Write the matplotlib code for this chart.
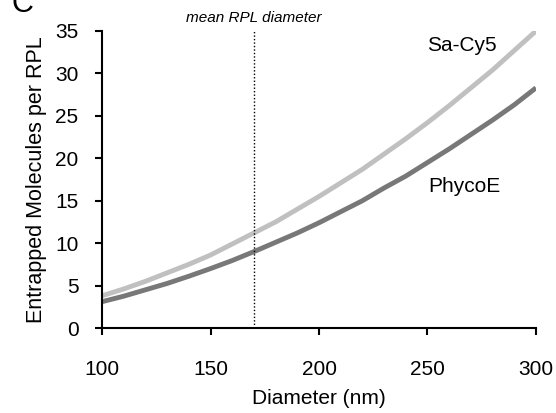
import matplotlib
matplotlib.use("Agg")
import matplotlib.pyplot as plt
import matplotlib.transforms as mtransforms

plt.rcParams["font.family"] = ["Liberation Sans", "DejaVu Sans"]

# values
diameter = [100, 110, 120, 130, 140, 150, 160, 170, 180, 190, 200,
            210, 220, 230, 240, 250, 260, 270, 280, 290, 300]
sa_cy5 = [3.8, 4.6, 5.5, 6.5, 7.5, 8.6, 9.9, 11.2, 12.5, 14.0, 15.5,
          17.1, 18.7, 20.5, 22.3, 24.2, 26.2, 28.3, 30.4, 32.7, 35.0]
phycoe = [3.1, 3.75, 4.5, 5.25, 6.1, 7.0, 7.95, 9.0, 10.1, 11.2, 12.4,
          13.7, 15.0, 16.5, 17.9, 19.5, 21.1, 22.8, 24.5, 26.3, 28.3]
mean_rpl = 170
x_ticks = [100, 150, 200, 250, 300]
y_ticks = [0, 5, 10, 15, 20, 25, 30, 35]

fig = plt.figure(figsize=(5.56, 4.13), dpi=100)
ax = fig.add_axes([0.1835, 0.2058, 0.7805, 0.7192])

ax.plot(diameter, sa_cy5, color="#c0c0c0", lw=3.5, solid_capstyle="butt")
ax.plot(diameter, phycoe, color="#787878", lw=3.5, solid_capstyle="butt")
ax.axvline(mean_rpl, color="black", lw=1, linestyle=(0, (1, 1.5)))

ax.text(266, 33.3, "Sa-Cy5", fontsize=15, ha="center", va="center")
ax.text(267, 16.7, "PhycoE", fontsize=15, ha="center", va="center")

trans = mtransforms.blended_transform_factory(ax.transData, ax.transAxes)
ax.text(mean_rpl, 1.042, "mean RPL diameter", transform=trans, fontsize=11,
        style="italic", ha="center", va="center")

ax.set_xlim(100, 300)
ax.set_ylim(0, 35)
ax.set_xticks(x_ticks)
ax.set_yticks(y_ticks)
ax.tick_params(axis="x", direction="out", length=5, width=1.5, pad=18, labelsize=15)
ax.tick_params(axis="y", direction="out", length=5, width=1.5, pad=12, labelsize=15)
for side in ["top", "right"]:
    ax.spines[side].set_visible(False)
for side in ["left", "bottom"]:
    ax.spines[side].set_linewidth(1.5)

ax.set_xlabel("Diameter (nm)", fontsize=15, labelpad=7)
ax.set_ylabel("Entrapped Molecules per RPL", fontsize=15.5, labelpad=6)

fig.text(0.02, 0.971, "C", fontsize=22, ha="left", va="baseline")

plt.savefig("out.png", dpi=100)
